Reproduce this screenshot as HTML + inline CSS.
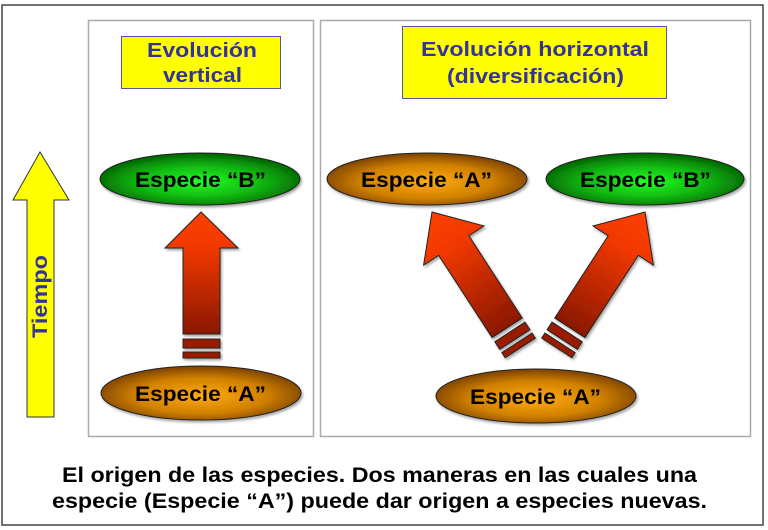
<!DOCTYPE html>
<html><head><meta charset="utf-8"><style>
html,body{margin:0;padding:0;background:#fff;}
svg{display:block;}
text{font-family:"Liberation Sans",Arial,sans-serif;font-weight:bold;}
</style></head><body>
<svg width="768" height="530" viewBox="0 0 768 530" xmlns="http://www.w3.org/2000/svg">
<defs>
<radialGradient id="gG" cx="50%" cy="55%" r="55%"><stop offset="0" stop-color="#22ff22"/><stop offset="0.6" stop-color="#10b010"/><stop offset="1" stop-color="#006000"/></radialGradient>
<radialGradient id="gO" cx="50%" cy="55%" r="55%"><stop offset="0" stop-color="#ffaa10"/><stop offset="0.6" stop-color="#d08000"/><stop offset="1" stop-color="#7a4000"/></radialGradient>
<linearGradient id="gR" x1="0" y1="0" x2="0" y2="1"><stop offset="0" stop-color="#ff4000"/><stop offset="0.3" stop-color="#f03800"/><stop offset="1" stop-color="#8a1800"/></linearGradient>
<filter id="sh" x="-10%" y="-10%" width="130%" height="130%"><feDropShadow dx="1.5" dy="2" stdDeviation="1.2" flood-color="#000" flood-opacity="0.35"/></filter>
</defs>
<rect x="2" y="5" width="761" height="520" fill="#fff" stroke="#444" stroke-width="1.5"/>
<rect x="88.5" y="20.5" width="225" height="416" fill="#fff" stroke="#aaa" stroke-width="1.5"/>
<rect x="320.5" y="20.5" width="430" height="416" fill="#fff" stroke="#aaa" stroke-width="1.5"/>
<rect x="121.5" y="36.5" width="159" height="52" fill="#ffff00" stroke="#5555aa" stroke-width="1"/>
<text x="147" y="57" textLength="110" lengthAdjust="spacingAndGlyphs" font-size="20" fill="#333399">Evolución</text>
<text x="163" y="82" textLength="79" lengthAdjust="spacingAndGlyphs" font-size="20" fill="#333399">vertical</text>
<rect x="402.5" y="26.5" width="264" height="72" fill="#ffff00" stroke="#5555aa" stroke-width="1"/>
<text x="421" y="56" textLength="228" lengthAdjust="spacingAndGlyphs" font-size="20" fill="#333399">Evolución horizontal</text>
<text x="447" y="83" textLength="177" lengthAdjust="spacingAndGlyphs" font-size="20" fill="#333399">(diversificación)</text>
<polygon points="40,152 69,200 54,200 54,417 27,417 27,200 13,200" fill="#ffff00" stroke="#333" stroke-width="1"/>
<text transform="translate(47,338) rotate(-90)" textLength="83" lengthAdjust="spacingAndGlyphs" font-size="21" fill="#333399">Tiempo</text>
<g filter="url(#sh)">
<ellipse cx="200" cy="179" rx="100" ry="26" fill="url(#gG)" stroke="#222" stroke-width="1"/>
<ellipse cx="201" cy="393" rx="100" ry="27" fill="url(#gO)" stroke="#222" stroke-width="1"/>
<ellipse cx="427" cy="179" rx="100" ry="26" fill="url(#gO)" stroke="#222" stroke-width="1"/>
<ellipse cx="645" cy="179" rx="99" ry="26" fill="url(#gG)" stroke="#222" stroke-width="1"/>
<ellipse cx="536" cy="396" rx="100" ry="27" fill="url(#gO)" stroke="#222" stroke-width="1"/>
</g>
<g font-size="21" fill="#000">
<text x="135" y="187" textLength="131" lengthAdjust="spacingAndGlyphs">Especie “B”</text>
<text x="135" y="401" textLength="131" lengthAdjust="spacingAndGlyphs">Especie “A”</text>
<text x="361" y="187" textLength="131" lengthAdjust="spacingAndGlyphs">Especie “A”</text>
<text x="580" y="187" textLength="131" lengthAdjust="spacingAndGlyphs">Especie “B”</text>
<text x="470" y="404" textLength="131" lengthAdjust="spacingAndGlyphs">Especie “A”</text>
</g>
<g stroke="#222" stroke-width="1" fill="url(#gR)" filter="url(#sh)">
<g transform="translate(201,212)">
<polygon points="0,0 37,36 19,36 19,122 -18,122 -18,36 -36,36"/>
<rect x="-18" y="127" width="37" height="9" fill="#9a1e00"/>
<rect x="-18" y="140" width="37" height="6" fill="#9a1e00"/>
</g>
<g transform="translate(432,212) rotate(-33)">
<polygon points="0,0 36,40 18,40 18,138 -18,138 -18,40 -36,40"/>
<rect x="-18" y="143" width="36" height="9" fill="#9a1e00"/>
<rect x="-18" y="156" width="36" height="6" fill="#9a1e00"/>
</g>
<g transform="translate(645,212) rotate(33)">
<polygon points="0,0 36,40 18,40 18,138 -18,138 -18,40 -36,40"/>
<rect x="-18" y="143" width="36" height="9" fill="#9a1e00"/>
<rect x="-18" y="156" width="36" height="6" fill="#9a1e00"/>
</g>
</g>
<g font-size="21" fill="#000">
<text x="62" y="482" textLength="635" lengthAdjust="spacingAndGlyphs">El origen de las especies. Dos maneras en las cuales una</text>
<text x="52" y="508" textLength="655" lengthAdjust="spacingAndGlyphs">especie (Especie “A”) puede dar origen a especies nuevas.</text>
</g>
</svg>
</body></html>
